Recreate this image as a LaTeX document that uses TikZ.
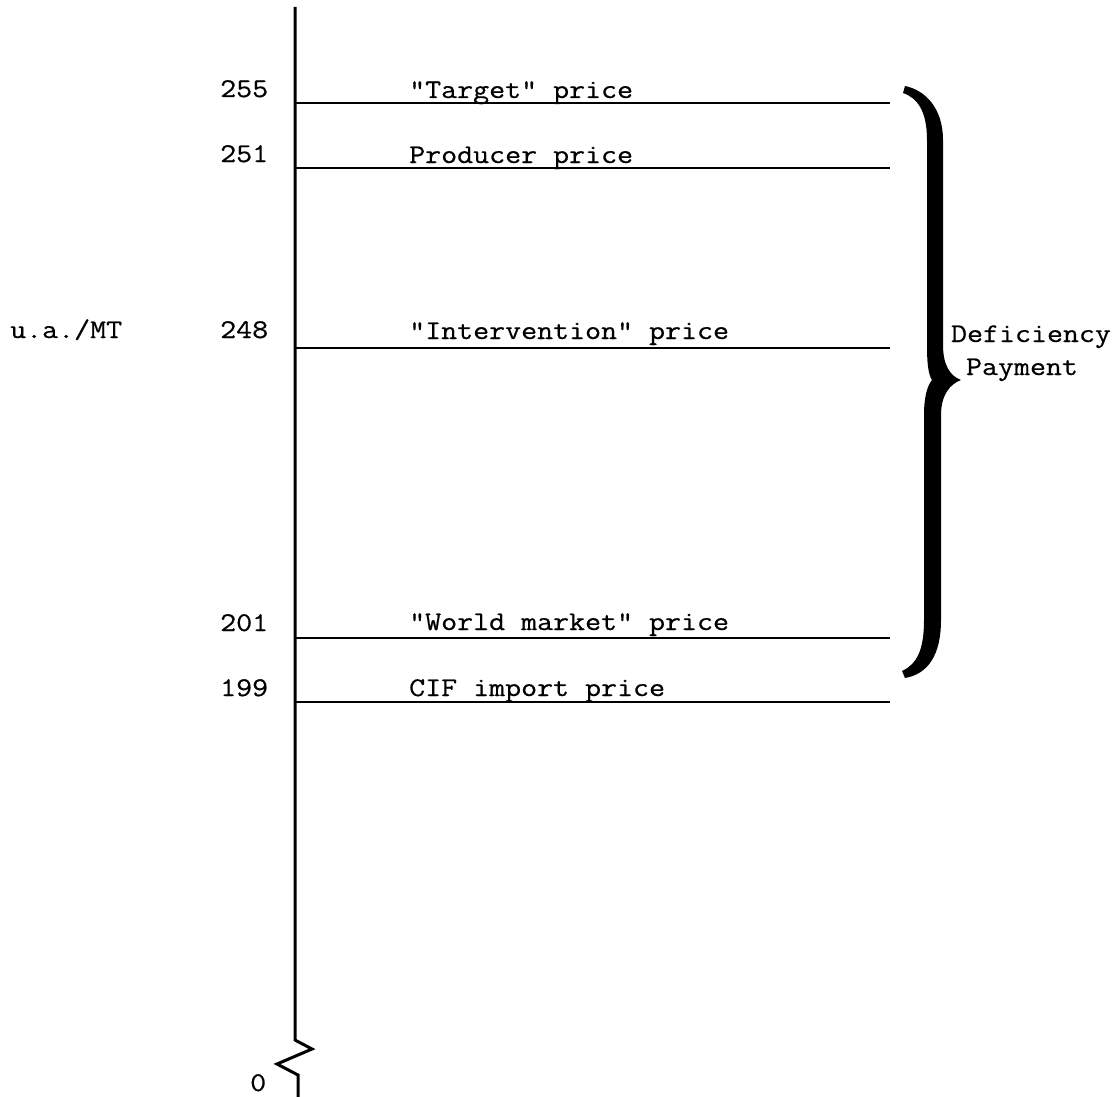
\documentclass[tikz,border=0pt]{standalone}
\usepackage{fontspec}
\setmonofont[FakeStretch=1.15,FakeBold=0.6]{Latin Modern Mono}
\begin{document}
\begin{tikzpicture}[x=1pt,y=-1pt,
  lbl/.style={anchor=base west,inner sep=0pt,font=\ttfamily\fontsize{27}{31}\selectfont},
  mid/.style={anchor=base,inner sep=0pt,font=\ttfamily\fontsize{27}{31}\selectfont},
  level/.style={line width=2pt},
  axis/.style={line width=3pt,line join=miter}]
\useasboundingbox (0,0) rectangle (1116,1097);
% axis
\coordinate (atop) at (295,7);
\coordinate (z1) at (295,1040);
\coordinate (z2) at (312,1049);
\coordinate (z3) at (277,1064);
\coordinate (z4) at (298,1075);
\coordinate (abot) at (298,1097);
\draw[axis] (atop) -- (z1) -- (z2) -- (z3) -- (z4) -- (abot);
% levels
\foreach \n/\y in {a/103,b/168,c/348,d/638,e/702}{
  \coordinate (L\n) at (295,\y);
  \coordinate (R\n) at (890,\y);
  \draw[level] (L\n) -- (R\n);
}
% numbers
\node[lbl] (n255) at (220,97) {255};
\node[lbl] (n251) at (220,162) {251};
\node[lbl] (n248) at (220,338) {248};
\node[lbl] (n201) at (220,631) {201};
\node[lbl] (n199) at (220,696) {199};
\node[lbl] (n0) at (250,1091) {0};
\node[lbl] (unit) at (10,338) {u.a./MT};
% labels
\node[lbl] (t1) at (409,98) {"Target" price};
\node[lbl] (t2) at (409,163) {Producer price};
\node[lbl] (t3) at (409,339) {"Intervention" price};
\node[lbl] (t4) at (409,630) {"World market" price};
\node[lbl] (t5) at (409,696) {CIF import price};
% brace
\fill (905,86) .. controls (925,90) and (943,108) .. (943,140) -- (943,345)
  .. controls (943,365) and (950,376) .. (961,380)
  .. controls (950,384) and (941,395) .. (941,415) -- (941,620)
  .. controls (941,655) and (928,674) .. (905,678) -- (902,671)
  .. controls (917,664) and (924,650) .. (924,620) -- (924,415)
  .. controls (924,398) and (927,386) .. (932,380)
  .. controls (928,374) and (927,362) .. (927,345) -- (927,140)
  .. controls (927,112) and (918,98) .. (903,93) -- cycle;
\node[mid] (def) at (1031,342) {Deficiency};
\node[mid] (pay) at (1022,375) {Payment};
\end{tikzpicture}
\end{document}
